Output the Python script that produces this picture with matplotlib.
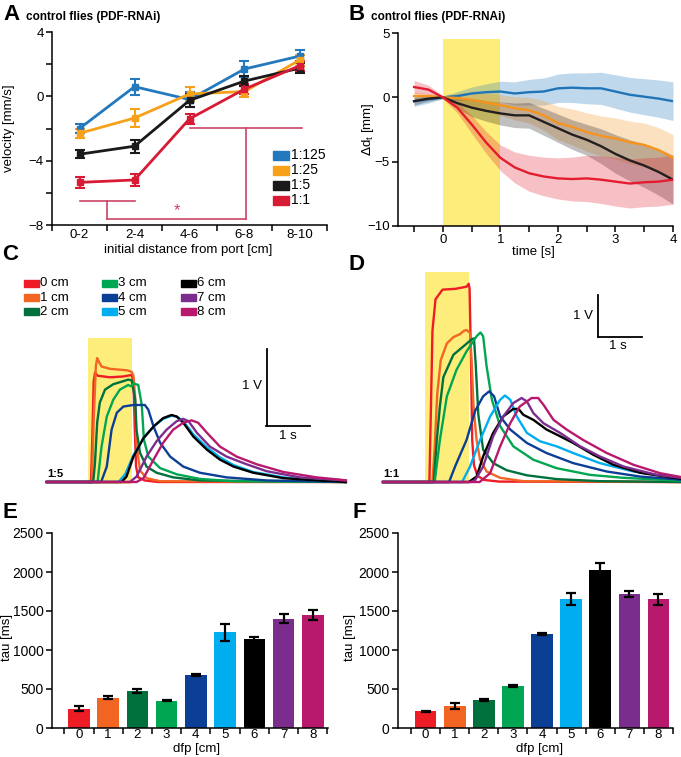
import matplotlib
matplotlib.use('Agg')
import matplotlib.pyplot as plt
import numpy as np
from matplotlib.patches import Rectangle

plt.rcParams['font.family'] = ['Liberation Sans', 'DejaVu Sans']
plt.rcParams['axes.linewidth'] = 1.1
plt.rcParams['xtick.major.width'] = 1.1
plt.rcParams['ytick.major.width'] = 1.1
plt.rcParams['xtick.minor.width'] = 1.1
plt.rcParams['ytick.minor.width'] = 1.1

W, H = 681, 757
fig = plt.figure(figsize=(W / 100, H / 100), dpi=100)

YELLOW = '#fdee7b'

# ---------------- Panel A data ----------------
a_groups = ['0-2', '2-4', '4-6', '6-8', '8-10']
a_labels = ['1:125', '1:25', '1:5', '1:1']
a_colors = ['#2379bd', '#f7a11b', '#1a1a1a', '#d81b35']
vel_125 = [-2.0, 0.6, -0.2, 1.7, 2.5]
err_125 = [0.3, 0.5, 0.45, 0.5, 0.4]
vel_25 = [-2.3, -1.35, 0.15, 0.3, 2.25]
err_25 = [0.3, 0.55, 0.45, 0.35, 0.35]
vel_5 = [-3.6, -3.1, -0.25, 0.95, 1.75]
err_5 = [0.25, 0.4, 0.4, 0.3, 0.3]
vel_1 = [-5.35, -5.2, -1.4, 0.45, 1.9]
err_1 = [0.35, 0.35, 0.3, 0.3, 0.3]
sig_color = '#cc4466'
sig_left = [0, 1]      # groups compared (left pair)
sig_right = [2, 4]     # groups compared (right set)
sig_levels = [-6.5, -7.6, -1.95]

# ---------------- Panel B data ----------------
b_time = [-0.5, -0.25, 0, 0.25, 0.5, 0.75, 1.0, 1.25, 1.5, 1.75, 2.0,
          2.25, 2.5, 2.75, 3.0, 3.25, 3.5, 3.75, 4.0]
b_blue = [-0.3, -0.15, 0, 0.1, 0.3, 0.4, 0.45, 0.3, 0.4, 0.45, 0.7, 0.75,
          0.7, 0.7, 0.45, 0.2, 0.05, -0.1, -0.3]
b_blue_s = [0.4, 0.3, 0.1, 0.35, 0.5, 0.65, 0.8, 0.9, 1.0, 1.05, 1.1, 1.15,
            1.2, 1.25, 1.3, 1.35, 1.4, 1.45, 1.5]
b_orange = [0.1, 0.1, 0, -0.05, -0.2, -0.4, -0.6, -0.85, -1.0, -1.4, -2.0,
            -2.3, -2.7, -3.0, -3.2, -3.5, -3.7, -4.1, -4.7]
b_orange_s = [0.3, 0.2, 0.1, 0.35, 0.6, 0.7, 0.8, 0.9, 1.0, 1.15, 1.3, 1.4,
              1.5, 1.55, 1.6, 1.65, 1.7, 1.75, 1.8]
b_black = [-0.3, -0.1, 0, -0.45, -0.8, -1.05, -1.25, -1.4, -1.4, -1.9, -2.4,
           -2.9, -3.3, -3.8, -4.4, -4.9, -5.3, -5.8, -6.4]
b_black_s = [0.3, 0.2, 0.1, 0.4, 0.7, 0.8, 0.9, 0.95, 1.0, 1.05, 1.1, 1.15,
             1.2, 1.35, 1.5, 1.6, 1.7, 1.8, 1.9]
b_red = [0.8, 0.6, 0, -0.8, -2.1, -3.5, -4.7, -5.45, -5.9, -6.15, -6.3,
         -6.35, -6.3, -6.4, -6.55, -6.7, -6.6, -6.55, -6.4]
b_red_s = [0.5, 0.35, 0.1, 0.4, 0.7, 0.85, 1.0, 1.2, 1.4, 1.5, 1.6, 1.7,
           1.8, 1.85, 1.9, 1.9, 1.9, 1.9, 1.9]
b_colors = ['#1f75b8', '#f7941d', '#231f20', '#e31d2f']

# ---------------- Panels C/D data ----------------
dist_labels = ['0 cm', '1 cm', '2 cm', '3 cm', '4 cm', '5 cm', '6 cm', '7 cm', '8 cm']
dist_colors = ['#ee1c25', '#f26522', '#00703c', '#00a651', '#0b3f96',
               '#00aeef', '#000000', '#7b2d8e', '#b8196c']

# 1:5 traces (time s, voltage V)
c_t = [
    [-0.94, 0.07, 0.10, 0.13, 0.16, 0.22, 0.5, 0.8, 1.0, 1.04, 1.07, 1.10, 1.15, 1.3, 1.6, 5.9],
    [-0.94, 0.09, 0.13, 0.18, 0.21, 0.26, 0.31, 0.5, 0.9, 1.0, 1.04, 1.08, 1.11, 1.19, 1.34, 1.65, 5.9],
    [-0.94, 0.12, 0.16, 0.21, 0.27, 0.39, 0.58, 0.81, 0.92, 1.00, 1.08, 1.11, 1.19, 1.34, 1.57, 1.95, 2.56, 5.9],
    [-0.94, 0.22, 0.31, 0.43, 0.58, 0.73, 0.92, 1.0, 1.04, 1.15, 1.23, 1.28, 1.38, 1.65, 2.03, 2.56, 3.3, 5.9],
    [-0.94, 0.30, 0.43, 0.54, 0.66, 0.81, 1.04, 1.30, 1.38, 1.50, 1.65, 1.88, 2.18, 2.56, 3.17, 4.09, 5.9],
    [-0.94, 0.70, 0.85, 1.04, 1.27, 1.50, 1.72, 1.91, 2.03, 2.18, 2.41, 2.72, 3.02, 3.33, 3.78, 4.47, 5.23, 5.9],
    [-0.94, 0.77, 0.88, 1.04, 1.27, 1.50, 1.72, 1.91, 2.03, 2.18, 2.41, 2.72, 3.02, 3.33, 3.78, 4.47, 5.23, 5.9],
    [-0.94, 0.96, 1.11, 1.34, 1.57, 1.80, 2.03, 2.18, 2.30, 2.49, 2.79, 3.17, 3.63, 4.09, 4.85, 5.61, 5.9],
    [-0.94, 1.11, 1.27, 1.50, 1.72, 1.95, 2.18, 2.37, 2.52, 2.72, 3.02, 3.40, 3.86, 4.47, 5.23, 5.77, 5.9],
]
c_v = [
    [0, 0, 0.6, 1.30, 1.42, 1.38, 1.36, 1.37, 1.39, 1.3, 0.7, 0.2, 0.06, 0.02, 0, 0],
    [0, 0, 0.8, 1.5, 1.61, 1.55, 1.50, 1.47, 1.45, 1.43, 1.38, 1.1, 0.5, 0.15, 0.05, 0.01, 0],
    [0, 0, 0.25, 0.77, 1.03, 1.20, 1.27, 1.31, 1.33, 1.32, 1.07, 0.68, 0.38, 0.20, 0.12, 0.06, 0.02, 0],
    [0, 0, 0.46, 0.85, 1.07, 1.20, 1.26, 1.24, 1.28, 1.26, 1.0, 0.55, 0.33, 0.18, 0.10, 0.04, 0.01, 0],
    [0, 0, 0.2, 0.68, 0.90, 0.98, 1.0, 1.0, 0.94, 0.72, 0.51, 0.33, 0.20, 0.12, 0.06, 0.02, 0],
    [0, 0, 0.1, 0.35, 0.57, 0.72, 0.82, 0.86, 0.85, 0.79, 0.62, 0.45, 0.32, 0.22, 0.13, 0.06, 0.02, 0],
    [0, 0, 0.07, 0.33, 0.57, 0.72, 0.83, 0.87, 0.85, 0.77, 0.59, 0.42, 0.29, 0.20, 0.12, 0.05, 0.02, 0],
    [0, 0, 0.07, 0.33, 0.53, 0.68, 0.79, 0.82, 0.79, 0.64, 0.46, 0.33, 0.23, 0.14, 0.06, 0.03, 0.02],
    [0, 0, 0.05, 0.29, 0.51, 0.68, 0.77, 0.80, 0.77, 0.64, 0.46, 0.33, 0.23, 0.13, 0.06, 0.03, 0.02],
]

# 1:1 traces (time s, voltage V)
d_t = [
    [-0.96, 0.10, 0.14, 0.17, 0.24, 0.4, 0.7, 0.95, 1.0, 1.02, 1.05, 1.08, 1.12, 1.2, 1.35, 1.7, 5.85],
    [-0.96, 0.17, 0.22, 0.28, 0.36, 0.5, 0.65, 0.8, 0.89, 0.95, 1.03, 1.07, 1.11, 1.18, 1.26, 1.41, 1.72, 2.25, 5.85],
    [-0.96, 0.2, 0.27, 0.34, 0.42, 0.65, 0.88, 1.07, 1.12, 1.16, 1.22, 1.33, 1.56, 1.87, 2.33, 3.01, 4.0, 5.85],
    [-0.96, 0.22, 0.34, 0.50, 0.72, 0.95, 1.18, 1.27, 1.33, 1.41, 1.53, 1.72, 2.02, 2.48, 3.01, 3.78, 4.54, 5.68, 5.85],
    [-0.96, 0.55, 0.70, 0.95, 1.15, 1.33, 1.47, 1.58, 1.72, 1.95, 2.33, 2.78, 3.39, 4.16, 4.92, 5.68, 5.85],
    [-0.96, 0.85, 1.03, 1.26, 1.49, 1.72, 1.83, 1.95, 2.10, 2.33, 2.63, 3.01, 3.39, 4.00, 4.77, 5.68, 5.85],
    [-0.96, 1.0, 1.18, 1.33, 1.56, 1.79, 2.02, 2.14, 2.25, 2.48, 2.78, 3.09, 3.39, 3.85, 4.31, 4.92, 5.68, 5.85],
    [-0.96, 1.05, 1.15, 1.33, 1.56, 1.79, 2.02, 2.21, 2.33, 2.48, 2.71, 3.09, 3.55, 4.0, 4.54, 5.30, 5.85],
    [-0.96, 1.25, 1.49, 1.72, 1.95, 2.17, 2.44, 2.59, 2.71, 2.94, 3.24, 3.62, 4.16, 4.77, 5.38, 5.85],
]
d_v = [
    [0, 0, 2.0, 3.6, 4.35, 4.58, 4.6, 4.65, 4.72, 4.6, 3.0, 1.0, 0.4, 0.15, 0.05, 0.01, 0],
    [0, 0, 0.8, 2.1, 2.9, 3.3, 3.45, 3.52, 3.6, 3.62, 3.55, 2.8, 1.8, 1.0, 0.53, 0.25, 0.1, 0.02, 0],
    [0, 0, 1.0, 1.8, 2.5, 3.03, 3.23, 3.4, 3.42, 2.8, 1.6, 0.77, 0.45, 0.28, 0.16, 0.07, 0.02, 0],
    [0, 0, 1.0, 2.04, 2.67, 3.11, 3.47, 3.56, 3.47, 2.75, 1.96, 1.33, 0.85, 0.53, 0.33, 0.17, 0.10, 0.04, 0.03],
    [0, 0, 0.4, 1.0, 1.7, 2.04, 2.16, 2.04, 1.56, 1.25, 0.93, 0.69, 0.45, 0.25, 0.13, 0.07, 0.05],
    [0, 0, 0.37, 1.0, 1.56, 1.96, 2.06, 1.96, 1.56, 1.17, 0.97, 0.85, 0.69, 0.45, 0.25, 0.12, 0.10],
    [0, 0, 0.13, 0.61, 1.17, 1.56, 1.74, 1.74, 1.6, 1.48, 1.25, 1.09, 0.93, 0.65, 0.41, 0.22, 0.10, 0.08],
    [0, 0, 0.05, 0.37, 1.09, 1.56, 1.88, 2.0, 1.92, 1.64, 1.4, 1.17, 0.85, 0.61, 0.37, 0.17, 0.10],
    [0, 0, 0.21, 0.85, 1.4, 1.8, 2.0, 2.0, 1.84, 1.48, 1.25, 1.0, 0.69, 0.41, 0.21, 0.12],
]

# ---------------- Panels E/F data ----------------
dfp = [0, 1, 2, 3, 4, 5, 6, 7, 8]
tau_e = [249, 386, 472, 352, 678, 1227, 1137, 1403, 1450]
tau_e_err = [35, 20, 25, 10, 15, 110, 25, 55, 65]
tau_f = [214, 283, 360, 540, 1205, 1655, 2028, 1720, 1650]
tau_f_err = [10, 40, 10, 10, 12, 75, 85, 35, 70]


def ax_px(l, t, r, b):
    return fig.add_axes([l / W, 1 - b / H, (r - l) / W, (b - t) / H])


def ftext(x, y, s, **kw):
    fig.text(x / W, 1 - y / H, s, **kw)


def style(ax, size=9.5):
    for s in ['top', 'right']:
        ax.spines[s].set_visible(False)
    ax.tick_params(direction='out', labelsize=size, length=4, which='both', pad=2)


# ---------------- Panel A ----------------
axA = ax_px(52, 32, 327, 225)
style(axA)
xA = np.arange(len(a_groups))
for m, e, c in zip([vel_125, vel_25, vel_5, vel_1],
                   [err_125, err_25, err_5, err_1], a_colors):
    axA.errorbar(xA, m, yerr=e, color=c, lw=2, marker='s', ms=4,
                 capsize=3.5, capthick=1.5, elinewidth=1.5)
axA.set_xlim(-0.5, 4.5)
axA.set_ylim(-8, 4)
axA.set_yticks([-8, -4, 0, 4])
axA.set_yticks([-6, -2, 2], minor=True)
axA.set_xticks(xA)
axA.set_xticklabels(a_groups)
axA.set_xticks(np.arange(-0.5, 4.6, 1), minor=True)
axA.tick_params(axis='x', which='major', length=0, pad=3)
# significance bracket
l0, l1, l2 = sig_levels
axA.plot(sig_left, [l0, l0], color=sig_color, lw=1.2)
midL = np.mean(sig_left)
jR = 3.02
axA.plot([midL, midL], [l0, l1], color=sig_color, lw=1.2)
axA.plot([midL, jR], [l1, l1], color=sig_color, lw=1.2)
axA.plot([jR, jR], [l1, l2], color=sig_color, lw=1.2)
axA.plot([sig_right[0], sig_right[1] + 0.05], [l2, l2], color=sig_color, lw=1.2)
axA.text(1.77, l1 + 0.02, '*', color=sig_color, ha='center', va='bottom', fontsize=12)
# legend
for i, (lab, c) in enumerate(zip(a_labels, a_colors)):
    yy = 155 + i * 15
    fig.add_artist(Rectangle((273 / W, 1 - (yy + 4.5) / H), 16 / W, 9 / H,
                             color=c, transform=fig.transFigure))
    ftext(291, yy, lab, fontsize=10, va='center', ha='left')
ftext(9, 128, 'velocity [mm/s]', rotation=90, fontsize=9.5, va='center', ha='center')
ftext(188, 250, 'initial distance from port [cm]', fontsize=9.5, va='center', ha='center')

# ---------------- Panel B ----------------
axB = ax_px(398, 33, 673, 226)
style(axB)
axB.axvspan(0, 1, ymin=0, ymax=(4.5 + 10) / 15, color=YELLOW, lw=0, zorder=0)
bt = np.array(b_time)
series = [(b_blue, b_blue_s), (b_orange, b_orange_s), (b_black, b_black_s), (b_red, b_red_s)]
for (m, s), c in zip(series, b_colors):
    m = np.array(m); s = np.array(s)
    axB.fill_between(bt, m - s, m + s, color=c, alpha=0.28, lw=0)
for (m, s), c in zip(series, b_colors):
    axB.plot(bt, m, color=c, lw=1.7)
axB.set_xlim(-0.78, 4)
axB.set_ylim(-10, 5)
axB.set_yticks([-10, -5, 0, 5])
axB.set_xticks([0, 1, 2, 3, 4])
axB.set_xticks(np.arange(-0.5, 4.01, 0.5), minor=True)
ftext(368, 129, r'$\Delta$d$_\mathregular{t}$ [mm]', rotation=90, fontsize=9.5, va='center', ha='center')
ftext(533, 252, 'time [s]', fontsize=9.5, va='center', ha='center')

# ---------------- Panel C ----------------
axC = ax_px(40, 330, 350, 490)
axC.set_xlim(-1.098, 5.995)
axC.set_ylim(-0.104, 1.974)
axC.axis('off')
axC.add_patch(Rectangle((0, -0.02), 1, 1.89, color=YELLOW, lw=0, zorder=0))
for t, v, c in zip(c_t, c_v, dist_colors):
    axC.plot(t, v, color=c, lw=1.7, solid_joinstyle='round')
axC.plot([4.10, 4.10], [0.73, 1.73], color='k', lw=1.3)
axC.plot([4.08, 5.08], [0.73, 0.73], color='k', lw=1.3)
axC.text(3.98, 1.25, '1 V', ha='right', va='center', fontsize=9.5)
axC.text(4.58, 0.60, '1 s', ha='center', va='center', fontsize=9.5)
axC.text(-0.94, 0.04, '1:5', ha='left', va='bottom', fontsize=8, fontweight='bold')

# legend for C
col_x = [24, 102, 181]
row_y = [283.5, 297.7, 311.7]
for i, (lab, c) in enumerate(zip(dist_labels, dist_colors)):
    cx = col_x[i // 3]
    ry = row_y[i % 3]
    fig.add_artist(Rectangle((cx / W, 1 - (ry + 3.5) / H), 15 / W, 7 / H,
                             color=c, transform=fig.transFigure))
    ftext(cx + 16, ry, lab, fontsize=9.5, va='center', ha='left')

# ---------------- Panel D ----------------
axD = ax_px(378, 262, 681, 490)
axD.set_xlim(-1.076, 5.858)
axD.set_ylim(-0.19, 5.238)
axD.axis('off')
axD.add_patch(Rectangle((0, -0.02), 1, 5.02, color=YELLOW, lw=0, zorder=0))
for t, v, c in zip(d_t, d_v, dist_colors):
    axD.plot(t, v, color=c, lw=1.7, solid_joinstyle='round')
axD.plot([3.97, 3.97], [3.46, 4.45], color='k', lw=1.3)
axD.plot([3.97, 4.96], [3.46, 3.46], color='k', lw=1.3)
axD.text(3.85, 3.95, '1 V', ha='right', va='center', fontsize=9.5)
axD.text(4.41, 3.25, '1 s', ha='center', va='center', fontsize=9.5)
axD.text(-0.96, 0.08, '1:1', ha='left', va='bottom', fontsize=8, fontweight='bold')

# ---------------- Panels E, F ----------------
for (l, r, xl), tau, err, xlab_x, ylab_x in [((52, 328, (-0.92, 8.52)), tau_e, tau_e_err, 197, 7),
                                            ((398, 673, (-0.95, 8.5)), tau_f, tau_f_err, 540, 350)]:
    ax = ax_px(l, 533, r, 728)
    style(ax, size=10)
    ax.bar(dfp, tau, width=0.74, color=dist_colors, zorder=2)
    ax.errorbar(dfp, tau, yerr=err, fmt='none', ecolor='k', capsize=3.5,
                elinewidth=1.6, capthick=1.6, zorder=3)
    ax.set_xlim(*xl)
    ax.set_ylim(0, 2500)
    ax.set_yticks(range(0, 2501, 500))
    ax.set_xticks(dfp)
    ax.set_xticks(np.arange(-0.5, 8.6, 1), minor=True)
    ax.tick_params(axis='x', which='major', length=0, pad=1)
    ax.tick_params(axis='x', labelsize=9.5)
    ftext(xlab_x, 749, 'dfp [cm]', fontsize=9.5, ha='center', va='center')
    ftext(ylab_x, 637, 'tau [ms]', fontsize=9.5, ha='center', va='center', rotation=90)

# ---------------- titles / letters ----------------
for x, y, s in [(3, 15, 'A'), (348, 15, 'B'), (2, 255, 'C'), (348, 265, 'D'),
                (2, 513, 'E'), (352, 513, 'F')]:
    ftext(x, y, s, fontsize=16, fontweight='bold', ha='left', va='center')
ftext(26, 17, 'control flies (PDF-RNAi)', fontsize=8.5, fontweight='bold', ha='left', va='center')
ftext(371, 17, 'control flies (PDF-RNAi)', fontsize=8.5, fontweight='bold', ha='left', va='center')

fig.savefig('out.png', dpi=100)
